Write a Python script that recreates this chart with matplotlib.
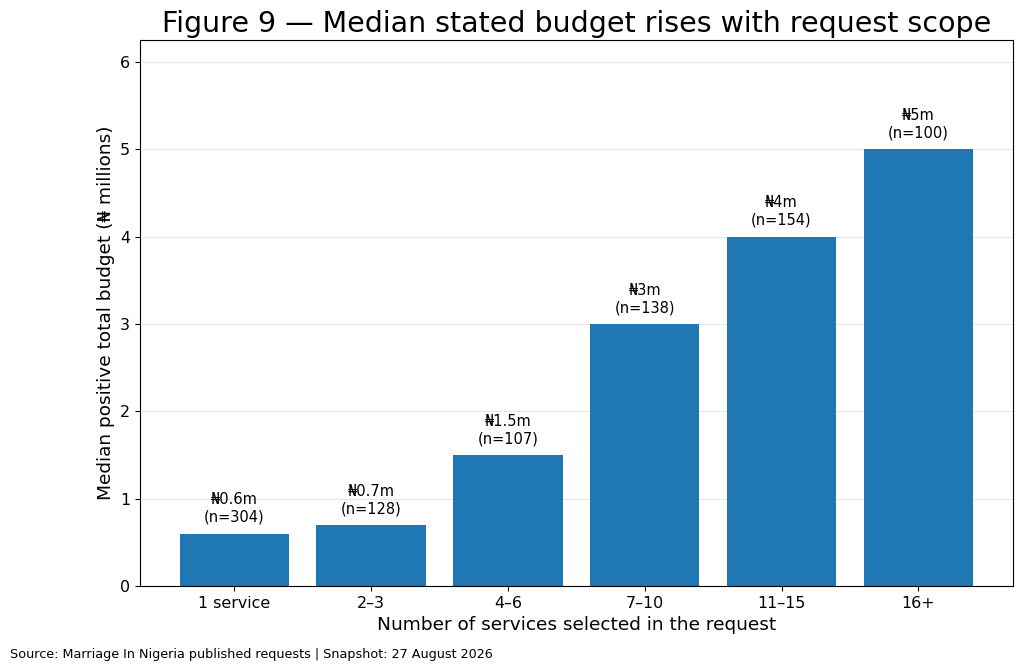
import numpy as np
import matplotlib
matplotlib.use('Agg')
import matplotlib.pyplot as plt

# data
groups = ['1 service', '2–3', '4–6', '7–10', '11–15', '16+']
medians = [0.6, 0.7, 1.5, 3.0, 4.0, 5.0]
counts = [304, 128, 107, 138, 154, 100]
value_labels = ['₦0.6m', '₦0.7m', '₦1.5m', '₦3m', '₦4m', '₦5m']

fig = plt.figure(figsize=(10.24, 6.71), dpi=100)
ax = fig.add_axes([0.1367, 0.1267, 0.8523, 0.8137])

x = np.arange(len(groups))
ax.bar(x, medians, width=0.8, color='#1f77b4', zorder=2)
ax.set_axisbelow(True)
ax.yaxis.grid(True, color='#e6e6e6', linewidth=0.8)

for xi, v, lab, n in zip(x, medians, value_labels, counts):
    ax.text(xi, v + 0.1, f'{lab}\n(n={n})', ha='center', va='bottom', fontsize=10.5)

ax.set_xticks(x)
ax.set_xticklabels(groups, fontsize=11.4)
ax.tick_params(axis='y', labelsize=11.4)
ax.set_ylim(0, 6.25)
ax.set_xlabel('Number of services selected in the request', fontsize=13.3)
ax.set_ylabel('Median positive total budget (₦ millions)', fontsize=13.3)
ax.set_title('Figure 9 — Median stated budget rises with request scope', fontsize=20.5)

fig.text(0.01, 0.015, 'Source: Marriage In Nigeria published requests | Snapshot: 27 August 2026',
         fontsize=9.2, ha='left', va='bottom')

fig.savefig('out.png', dpi=100)
